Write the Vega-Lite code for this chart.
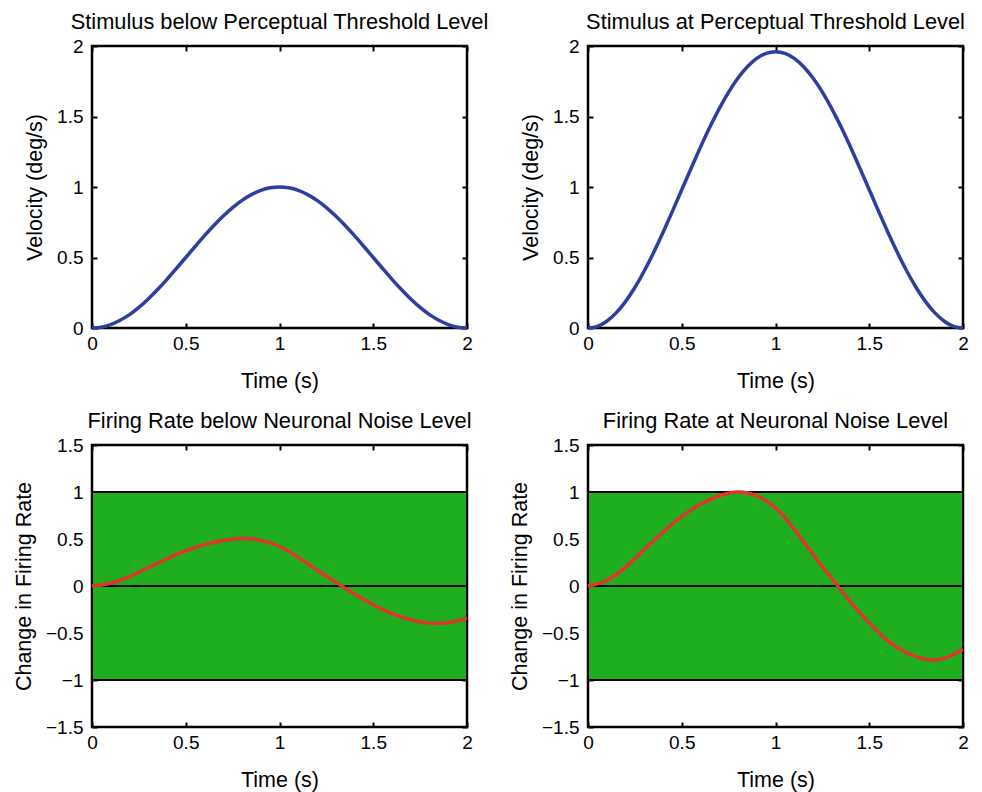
{
  "$schema": "https://vega.github.io/schema/vega-lite/v6.json",
  "background": "white",
  "padding": {"left": 12, "top": 10, "right": 5, "bottom": 5},
  "config": {
    "font": "Liberation Sans",
    "view": {"stroke": "black", "strokeWidth": 2.5},
    "axis": {
      "grid": false, "domain": false, "ticks": true, "tickSize": -5, "tickWidth": 2, "tickColor": "black",
      "labelFont": "Liberation Sans", "labelFontSize": 19, "labelColor": "black", "labelFlush": false, "labelOverlap": false,
      "titleFont": "Liberation Sans", "titleFontSize": 21.5, "titleFontWeight": "normal", "titleColor": "black",
      "format": "~g"
    },
    "axisX": {"labelPadding": 11, "titlePadding": 17},
    "axisY": {"labelPadding": 14, "titlePadding": 10},
    "title": {"font": "Liberation Sans", "fontSize": 21.8, "fontWeight": "normal", "color": "black", "offset": 3, "frame": "group"}
  },
  "datasets": {
    "vel": [
      {"t": 0, "low": 0, "high": 0},
      {"t": 0.05, "low": 0.006, "high": 0.012},
      {"t": 0.1, "low": 0.024, "high": 0.048},
      {"t": 0.15, "low": 0.055, "high": 0.107},
      {"t": 0.2, "low": 0.095, "high": 0.187},
      {"t": 0.25, "low": 0.146, "high": 0.287},
      {"t": 0.3, "low": 0.206, "high": 0.404},
      {"t": 0.35, "low": 0.273, "high": 0.535},
      {"t": 0.4, "low": 0.345, "high": 0.677},
      {"t": 0.45, "low": 0.422, "high": 0.827},
      {"t": 0.5, "low": 0.5, "high": 0.98},
      {"t": 0.55, "low": 0.578, "high": 1.133},
      {"t": 0.6, "low": 0.655, "high": 1.283},
      {"t": 0.65, "low": 0.727, "high": 1.425},
      {"t": 0.7, "low": 0.794, "high": 1.556},
      {"t": 0.75, "low": 0.854, "high": 1.673},
      {"t": 0.8, "low": 0.905, "high": 1.773},
      {"t": 0.85, "low": 0.946, "high": 1.853},
      {"t": 0.9, "low": 0.976, "high": 1.912},
      {"t": 0.95, "low": 0.994, "high": 1.948},
      {"t": 1.0, "low": 1.0, "high": 1.96},
      {"t": 1.05, "low": 0.994, "high": 1.948},
      {"t": 1.1, "low": 0.976, "high": 1.912},
      {"t": 1.15, "low": 0.946, "high": 1.853},
      {"t": 1.2, "low": 0.905, "high": 1.773},
      {"t": 1.25, "low": 0.854, "high": 1.673},
      {"t": 1.3, "low": 0.794, "high": 1.556},
      {"t": 1.35, "low": 0.727, "high": 1.425},
      {"t": 1.4, "low": 0.655, "high": 1.283},
      {"t": 1.45, "low": 0.578, "high": 1.133},
      {"t": 1.5, "low": 0.5, "high": 0.98},
      {"t": 1.55, "low": 0.422, "high": 0.827},
      {"t": 1.6, "low": 0.345, "high": 0.677},
      {"t": 1.65, "low": 0.273, "high": 0.535},
      {"t": 1.7, "low": 0.206, "high": 0.404},
      {"t": 1.75, "low": 0.146, "high": 0.287},
      {"t": 1.8, "low": 0.095, "high": 0.187},
      {"t": 1.85, "low": 0.055, "high": 0.107},
      {"t": 1.9, "low": 0.024, "high": 0.048},
      {"t": 1.95, "low": 0.006, "high": 0.012},
      {"t": 2.0, "low": 0, "high": 0}
    ],
    "fire": [
      {"t": 0, "low": 0, "high": 0},
      {"t": 0.1, "low": 0.03, "high": 0.06},
      {"t": 0.2, "low": 0.1, "high": 0.2},
      {"t": 0.3, "low": 0.195, "high": 0.385},
      {"t": 0.4, "low": 0.29, "high": 0.575},
      {"t": 0.5, "low": 0.375, "high": 0.74},
      {"t": 0.6, "low": 0.44, "high": 0.87},
      {"t": 0.7, "low": 0.485, "high": 0.96},
      {"t": 0.8, "low": 0.505, "high": 1.0},
      {"t": 0.9, "low": 0.485, "high": 0.96},
      {"t": 1.0, "low": 0.42, "high": 0.83},
      {"t": 1.1, "low": 0.305, "high": 0.605},
      {"t": 1.2, "low": 0.17, "high": 0.335},
      {"t": 1.3, "low": 0.04, "high": 0.08},
      {"t": 1.4, "low": -0.085, "high": -0.17},
      {"t": 1.5, "low": -0.2, "high": -0.395},
      {"t": 1.6, "low": -0.295, "high": -0.585},
      {"t": 1.7, "low": -0.36, "high": -0.71},
      {"t": 1.8, "low": -0.395, "high": -0.78},
      {"t": 1.9, "low": -0.39, "high": -0.77},
      {"t": 2.0, "low": -0.345, "high": -0.675}
    ],
    "band": [{"t0": 0, "t1": 2, "lo": -1, "hi": 1}]
  },
  "columns": 2,
  "spacing": {"row": 117, "column": 121},
  "bounds": "flush",
  "concat": [
    {
      "width": 375, "height": 282,
      "title": "Stimulus below Perceptual Threshold Level",
      "data": {"name": "vel"},
      "resolve": {"axis": {"x": "independent", "y": "independent"}},
      "layer": [
        {
          "mark": {"type": "line", "color": "#2E3E9F", "strokeWidth": 3.5, "interpolate": "natural"},
          "encoding": {
            "x": {"field": "t", "type": "quantitative", "scale": {"domain": [0, 2], "nice": false}, "axis": {"title": "Time (s)", "values": [0, 0.5, 1, 1.5, 2]}},
            "y": {"field": "low", "type": "quantitative", "scale": {"domain": [0, 2], "nice": false}, "axis": {"title": "Velocity (deg/s)", "values": [0, 0.5, 1, 1.5, 2]}}
          }
        },
        {
          "mark": {"type": "line", "opacity": 0},
          "encoding": {
            "x": {"field": "t", "type": "quantitative", "axis": {"orient": "top", "labels": false, "title": null, "values": [0, 0.5, 1, 1.5, 2]}},
            "y": {"field": "low", "type": "quantitative", "axis": {"orient": "right", "labels": false, "title": null, "values": [0, 0.5, 1, 1.5, 2]}}
          }
        }
      ]
    },
    {
      "width": 375, "height": 282,
      "title": "Stimulus at Perceptual Threshold Level",
      "data": {"name": "vel"},
      "resolve": {"axis": {"x": "independent", "y": "independent"}},
      "layer": [
        {
          "mark": {"type": "line", "color": "#2E3E9F", "strokeWidth": 3.5, "interpolate": "natural"},
          "encoding": {
            "x": {"field": "t", "type": "quantitative", "scale": {"domain": [0, 2], "nice": false}, "axis": {"title": "Time (s)", "values": [0, 0.5, 1, 1.5, 2]}},
            "y": {"field": "high", "type": "quantitative", "scale": {"domain": [0, 2], "nice": false}, "axis": {"title": "Velocity (deg/s)", "values": [0, 0.5, 1, 1.5, 2]}}
          }
        },
        {
          "mark": {"type": "line", "opacity": 0},
          "encoding": {
            "x": {"field": "t", "type": "quantitative", "axis": {"orient": "top", "labels": false, "title": null, "values": [0, 0.5, 1, 1.5, 2]}},
            "y": {"field": "high", "type": "quantitative", "axis": {"orient": "right", "labels": false, "title": null, "values": [0, 0.5, 1, 1.5, 2]}}
          }
        }
      ]
    },
    {
      "width": 375, "height": 282,
      "title": "Firing Rate below Neuronal Noise Level",
      "resolve": {"axis": {"x": "independent", "y": "independent"}},
      "layer": [
        {
          "data": {"name": "band"},
          "mark": {"type": "rect", "fill": "#1EAE1E", "stroke": "black", "strokeWidth": 2},
          "encoding": {
            "x": {"field": "t0", "type": "quantitative", "scale": {"domain": [0, 2], "nice": false}, "axis": {"title": "Time (s)", "values": [0, 0.5, 1, 1.5, 2]}},
            "x2": {"field": "t1"},
            "y": {"field": "lo", "type": "quantitative", "scale": {"domain": [-1.5, 1.5], "nice": false}, "axis": {"title": "Change in Firing Rate", "values": [-1.5, -1, -0.5, 0, 0.5, 1, 1.5]}},
            "y2": {"field": "hi"}
          }
        },
        {
          "data": {"name": "band"},
          "mark": {"type": "rule", "color": "black", "strokeWidth": 2},
          "encoding": {"y": {"datum": 0, "type": "quantitative", "axis": null}}
        },
        {
          "data": {"name": "fire"},
          "mark": {"type": "line", "color": "#E0352A", "strokeWidth": 3.5, "interpolate": "natural"},
          "encoding": {
            "x": {"field": "t", "type": "quantitative", "axis": null},
            "y": {"field": "low", "type": "quantitative", "axis": null}
          }
        },
        {
          "data": {"name": "fire"},
          "mark": {"type": "line", "opacity": 0},
          "encoding": {
            "x": {"field": "t", "type": "quantitative", "axis": {"orient": "top", "labels": false, "title": null, "values": [0, 0.5, 1, 1.5, 2]}},
            "y": {"field": "low", "type": "quantitative", "axis": {"orient": "right", "labels": false, "title": null, "values": [-1.5, -1, -0.5, 0, 0.5, 1, 1.5]}}
          }
        }
      ]
    },
    {
      "width": 375, "height": 282,
      "title": "Firing Rate at Neuronal Noise Level",
      "resolve": {"axis": {"x": "independent", "y": "independent"}},
      "layer": [
        {
          "data": {"name": "band"},
          "mark": {"type": "rect", "fill": "#1EAE1E", "stroke": "black", "strokeWidth": 2},
          "encoding": {
            "x": {"field": "t0", "type": "quantitative", "scale": {"domain": [0, 2], "nice": false}, "axis": {"title": "Time (s)", "values": [0, 0.5, 1, 1.5, 2]}},
            "x2": {"field": "t1"},
            "y": {"field": "lo", "type": "quantitative", "scale": {"domain": [-1.5, 1.5], "nice": false}, "axis": {"title": "Change in Firing Rate", "values": [-1.5, -1, -0.5, 0, 0.5, 1, 1.5]}},
            "y2": {"field": "hi"}
          }
        },
        {
          "data": {"name": "band"},
          "mark": {"type": "rule", "color": "black", "strokeWidth": 2},
          "encoding": {"y": {"datum": 0, "type": "quantitative", "axis": null}}
        },
        {
          "data": {"name": "fire"},
          "mark": {"type": "line", "color": "#E0352A", "strokeWidth": 3.5, "interpolate": "natural"},
          "encoding": {
            "x": {"field": "t", "type": "quantitative", "axis": null},
            "y": {"field": "high", "type": "quantitative", "axis": null}
          }
        },
        {
          "data": {"name": "fire"},
          "mark": {"type": "line", "opacity": 0},
          "encoding": {
            "x": {"field": "t", "type": "quantitative", "axis": {"orient": "top", "labels": false, "title": null, "values": [0, 0.5, 1, 1.5, 2]}},
            "y": {"field": "high", "type": "quantitative", "axis": {"orient": "right", "labels": false, "title": null, "values": [-1.5, -1, -0.5, 0, 0.5, 1, 1.5]}}
          }
        }
      ]
    }
  ]
}
